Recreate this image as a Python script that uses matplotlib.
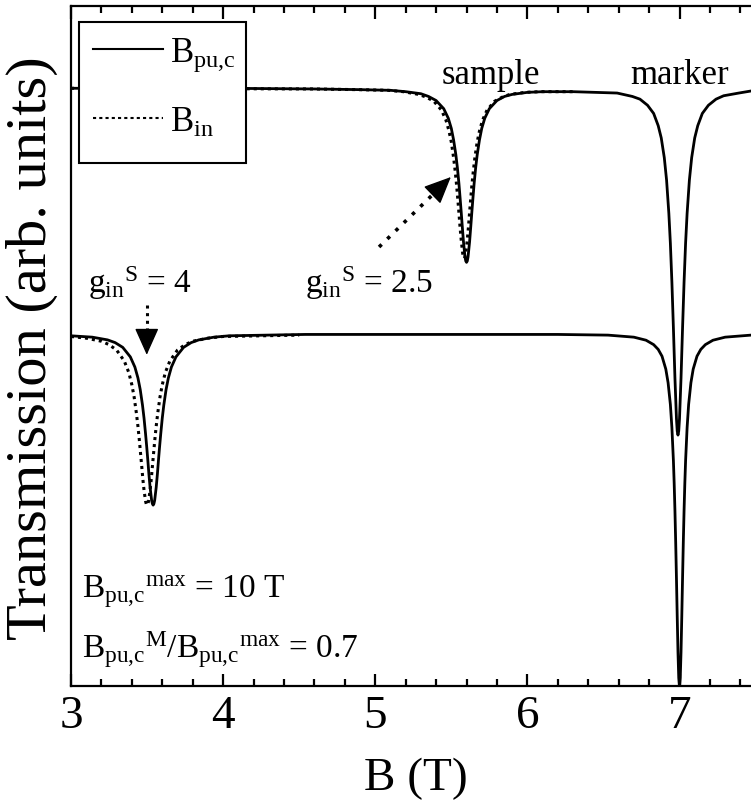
import numpy as np
import matplotlib
matplotlib.use('Agg')
import matplotlib.pyplot as plt
from matplotlib.patches import Rectangle

plt.rcParams['font.family'] = ['Liberation Serif', 'DejaVu Serif']
plt.rcParams['mathtext.fontset'] = 'custom'
plt.rcParams['mathtext.rm'] = 'Liberation Serif'
plt.rcParams['mathtext.it'] = 'Liberation Serif:italic'

# upper trace, B_pu,c (solid): sample dip near 5.6, marker dip near 6.99
x_up = [3.00, 4.00, 4.60, 4.90, 5.10, 5.20, 5.30, 5.35, 5.40, 5.45, 5.48, 5.50, 5.515, 5.53,
        5.54, 5.55, 5.558, 5.565, 5.572, 5.58, 5.59, 5.595, 5.60,
        5.605, 5.61, 5.62, 5.628, 5.635, 5.642, 5.65, 5.66, 5.67, 5.685, 5.70, 5.72, 5.75,
        5.80, 5.85, 5.90, 6.00, 6.10, 6.30,
        6.59, 6.69, 6.74, 6.79, 6.83, 6.86, 6.88, 6.90, 6.915, 6.93, 6.94, 6.95, 6.96, 6.97,
        6.98, 6.985, 6.99,
        6.995, 7.00, 7.01, 7.02, 7.03, 7.04, 7.05, 7.065, 7.08, 7.10, 7.12, 7.15, 7.19, 7.24,
        7.29, 7.39, 7.47]
y_up = [0.879, 0.879, 0.878, 0.877, 0.876, 0.874, 0.871, 0.867, 0.861, 0.849, 0.835, 0.820, 0.803, 0.781,
        0.762, 0.739, 0.717, 0.697, 0.676, 0.653, 0.631, 0.625, 0.623,
        0.625, 0.631, 0.653, 0.676, 0.697, 0.717, 0.739, 0.762, 0.781, 0.803, 0.820, 0.835, 0.849,
        0.861, 0.867, 0.870, 0.873, 0.874, 0.874,
        0.872, 0.867, 0.863, 0.854, 0.842, 0.824, 0.806, 0.777, 0.744, 0.695, 0.651, 0.594, 0.526, 0.453,
        0.393, 0.375, 0.369,
        0.375, 0.393, 0.453, 0.526, 0.594, 0.651, 0.695, 0.744, 0.777, 0.806, 0.824, 0.842, 0.854, 0.863,
        0.868, 0.872, 0.875]

# upper trace, B_in (dotted)
x_up_in = [3.00, 4.585, 4.885, 5.085, 5.185, 5.285, 5.335, 5.385, 5.435, 5.465, 5.485, 5.50, 5.515,
           5.525, 5.535, 5.543, 5.55, 5.557, 5.565, 5.575, 5.58, 5.585,
           5.59, 5.595, 5.605, 5.613, 5.62, 5.627, 5.635, 5.645, 5.655, 5.67, 5.685, 5.705, 5.735,
           5.785, 5.835, 5.885, 5.985, 6.085, 6.30]
y_up_in = [0.879, 0.878, 0.877, 0.876, 0.874, 0.870, 0.866, 0.860, 0.847, 0.832, 0.816, 0.800, 0.777,
           0.758, 0.736, 0.715, 0.696, 0.676, 0.656, 0.636, 0.631, 0.629,
           0.631, 0.636, 0.656, 0.676, 0.696, 0.715, 0.736, 0.758, 0.777, 0.800, 0.816, 0.832, 0.847,
           0.860, 0.866, 0.870, 0.873, 0.874, 0.874]

# lower trace, B_pu,c (solid): sample dip near 3.54, marker dip at 7.0
x_lo = [3.00, 3.14, 3.24, 3.29, 3.34, 3.39, 3.42, 3.44, 3.455, 3.47, 3.48, 3.49, 3.498, 3.505,
        3.512, 3.52, 3.53, 3.535, 3.54,
        3.545, 3.55, 3.56, 3.568, 3.575, 3.582, 3.59, 3.60, 3.61, 3.625, 3.64, 3.66, 3.69, 3.74,
        3.79, 3.84, 3.94, 4.04, 4.54, 5.50, 6.20,
        6.53, 6.70, 6.78, 6.83, 6.86, 6.885, 6.91, 6.925, 6.94, 6.95, 6.96, 6.965, 6.97, 6.975,
        6.98, 6.985, 6.99, 6.995, 7.00,
        7.005, 7.01, 7.015, 7.02, 7.025, 7.03, 7.035, 7.04, 7.05, 7.06, 7.075, 7.09, 7.115, 7.14,
        7.17, 7.22, 7.30, 7.47]
y_lo = [0.515, 0.513, 0.509, 0.505, 0.498, 0.484, 0.469, 0.453, 0.436, 0.413, 0.394, 0.371, 0.351, 0.332,
        0.312, 0.292, 0.273, 0.268, 0.266,
        0.268, 0.273, 0.292, 0.312, 0.332, 0.351, 0.371, 0.394, 0.413, 0.436, 0.453, 0.469, 0.484, 0.498,
        0.505, 0.509, 0.513, 0.515, 0.517, 0.517, 0.517,
        0.516, 0.513, 0.5085, 0.502, 0.495, 0.485, 0.466, 0.446, 0.414, 0.380, 0.331, 0.298, 0.258, 0.211,
        0.158, 0.102, 0.050, 0.012, -0.002,
        0.012, 0.050, 0.102, 0.158, 0.211, 0.258, 0.298, 0.331, 0.380, 0.414, 0.446, 0.466, 0.485, 0.495,
        0.502, 0.5085, 0.513, 0.516]

# lower trace, B_in (dotted)
x_lo_in = [3.00, 3.10, 3.20, 3.25, 3.30, 3.35, 3.38, 3.40, 3.415, 3.43, 3.44, 3.45, 3.458, 3.465,
           3.472, 3.48, 3.49, 3.495, 3.50,
           3.505, 3.51, 3.52, 3.528, 3.535, 3.542, 3.55, 3.56, 3.57, 3.585, 3.60, 3.62, 3.65, 3.70,
           3.75, 3.80, 3.90, 4.00, 4.50]
y_lo_in = [0.514, 0.5115, 0.507, 0.502, 0.494, 0.478, 0.461, 0.443, 0.425, 0.401, 0.382, 0.360, 0.340, 0.323,
           0.305, 0.288, 0.272, 0.2675, 0.266,
           0.2675, 0.272, 0.288, 0.305, 0.323, 0.340, 0.360, 0.382, 0.401, 0.425, 0.443, 0.461, 0.478, 0.494,
           0.502, 0.507, 0.5115, 0.514, 0.516]

xticks = [3, 4, 5, 6, 7]
legend_labels = [r'$\mathrm{B_{pu{,}c}}$', r'$\mathrm{B_{in}}$']

fig = plt.figure(figsize=(7.51, 8.06), dpi=100)
ax = fig.add_axes([71/751, 120/806, 680/751, 680/806])

dots = (0, (1, 1.3))
ax.plot(x_up_in, y_up_in, color='k', lw=2.2, ls=dots)
ax.plot(x_lo_in, y_lo_in, color='k', lw=2.2, ls=dots)
ax.plot(x_up, y_up, color='k', lw=2.0)
ax.plot(x_lo, y_lo, color='k', lw=2.0)

ax.set_xlim(3, 7.47)
ax.set_ylim(0, 1)
ax.set_xticks(xticks)
ax.set_xticklabels([str(t) for t in xticks])
ax.set_xticks(np.arange(3, 7.5, 0.2), minor=True)
ax.set_yticks([])
ax.tick_params(axis='x', which='both', direction='in', top=True, width=1.6, labelsize=34, pad=7)
ax.tick_params(axis='x', which='major', length=9)
ax.tick_params(axis='x', which='minor', length=5)
ax.spines['right'].set_visible(False)
for s in ['left', 'top', 'bottom']:
    ax.spines[s].set_linewidth(1.6)

ax.set_xlabel('B (T)', fontsize=34)
ax.xaxis.set_label_coords(0.507, -0.105)
fig.text(32/751, 1 - 348/806, 'Transmission (arb. units)', rotation=90, fontsize=42,
         ha='center', va='center')

# legend box drawn by hand (asymmetric padding as in the original)
ta = ax.transAxes
ax.add_patch(Rectangle((0.0118, 0.7691), 0.2456, 0.2074, transform=ta, facecolor='white',
                       edgecolor='k', lw=1.5, zorder=3))
ax.plot([0.0324, 0.1353], [0.9368, 0.9368], transform=ta, color='k', lw=1.5, zorder=4)
ax.plot([0.0324, 0.1353], [0.8353, 0.8353], transform=ta, color='k', lw=1.5,
        ls=(0, (1.5, 1.5)), zorder=4)
ax.text(0.1456, 0.9176, legend_labels[0], transform=ta, fontsize=25, va='baseline', zorder=4)
ax.text(0.1456, 0.8147, legend_labels[1], transform=ta, fontsize=25, va='baseline', zorder=4)

ax.text(5.76, 0.885, 'sample', fontsize=25, ha='center', va='baseline')
ax.text(7.0, 0.885, 'marker', fontsize=25, ha='center', va='baseline')

ax.text(3.11, 0.578, r'$\mathrm{{g_{in}}^{S}}$ = 4', fontsize=24, ha='left', va='baseline')
ax.text(4.535, 0.578, r'$\mathrm{{g_{in}}^{S}}$ = 2.5', fontsize=24, ha='left', va='baseline')

ax.text(3.07, 0.129, r'$\mathrm{{B_{pu{,}c}}^{max}}$ = 10 T', fontsize=24, ha='left', va='baseline')
ax.text(3.07, 0.041, r'$\mathrm{{B_{pu{,}c}}^{M}/{B_{pu{,}c}}^{max}}$ = 0.7', fontsize=24,
        ha='left', va='baseline')

# arrows: dotted shaft plus solid filled head
head = dict(arrowstyle='-|>,head_length=0.85,head_width=0.38', mutation_scale=20,
            color='k', lw=1, shrinkA=0, shrinkB=0)
ax.plot([3.498, 3.498], [0.560, 0.522], color='k', lw=2.2, ls=(0, (1, 1.5)))
ax.annotate('', xy=(3.498, 0.487), xytext=(3.498, 0.521), arrowprops=head)
ax.plot([5.025, 5.388], [0.6456, 0.7249], color='k', lw=2.6, ls=(0, (1, 2.2)))
ax.annotate('', xy=(5.497, 0.7485), xytext=(5.388, 0.7249), arrowprops=head)

fig.savefig('out.png', dpi=100)
